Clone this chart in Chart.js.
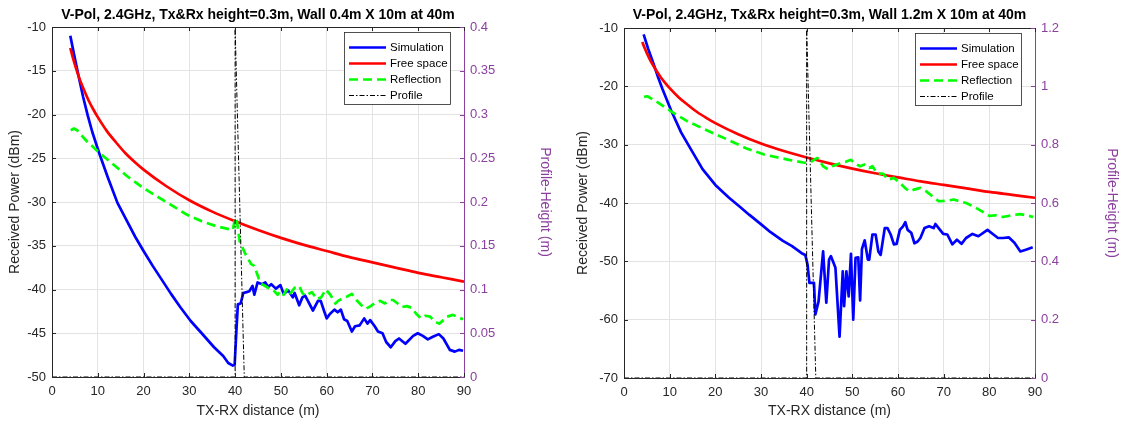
<!DOCTYPE html>
<html>
<head>
<meta charset="utf-8">
<script src="https://cdn.jsdelivr.net/npm/chart.js@4/dist/chart.umd.min.js"></script>
<style>
  html, body { margin: 0; padding: 0; background: #fff; }
  #wrap { position: relative; width: 1121px; height: 421px; overflow: hidden; }
  canvas { position: absolute; top: 0; }
  #wall04 { left: 0; }
  #wall12 { left: 560px; }
</style>
</head>
<body>
<div id="wrap">
  <canvas id="wall04" width="560" height="421"></canvas>
  <canvas id="wall12" width="561" height="421"></canvas>
</div>
<script>
// free-space reference, same for both runs (dBm vs m)
const freeDist = [4, 4.5, 5, 6, 7, 8, 9, 10, 12, 14, 16, 18, 20, 25, 30, 35, 40, 45, 50, 55, 60, 65, 70, 75, 80, 85, 90]
const freePower = [-12.4, -13.4, -14.3, -15.9, -17.2, -18.4, -19.4, -20.3, -21.9, -23.2, -24.4, -25.4, -26.3, -28.2, -29.8, -31.1, -32.2, -33.2, -34.1, -34.9, -35.6, -36.3, -36.9, -37.5, -38.1, -38.6, -39.1]

// wall 0.4 m
const simDist04 = [4, 4.8, 5.8, 6.8, 7.8, 8.8, 10.3, 12.2, 14.3, 16.3, 18.2, 20, 22, 24, 26, 28, 30.3, 32.7, 35.4, 37.4, 38.5, 39.5, 39.9, 40.3, 40.6, 41.2, 41.8, 42.5, 43.1, 43.8, 44.2, 44.9, 45.9, 46.6, 47.2, 47.9, 48.9, 49.9, 50.6, 51.6, 52.6, 53, 54, 54.7, 55.3, 56.4, 57, 58.1, 58.7, 59.4, 60, 60.7, 61.7, 62.4, 63.1, 63.8, 64.5, 65.5, 66.2, 67.2, 68.2, 68.9, 69.5, 70.5, 71.2, 72.2, 73, 74, 75, 75.8, 77.2, 78.9, 79.9, 81, 82.1, 83.2, 84.5, 85.5, 86.9, 88, 88.9, 89.8]
const simPower04 = [-11, -13.1, -15.6, -18, -20.1, -22, -24.4, -27.2, -30.1, -32.1, -34, -35.6, -37.3, -38.9, -40.5, -42, -43.6, -45, -46.6, -47.6, -48.4, -48.7, -48.6, -44.5, -41.7, -41.6, -40.4, -40.3, -40.2, -39.6, -40.6, -39.2, -39.4, -39.2, -39.7, -39.4, -39.9, -39.5, -40.5, -40.1, -40.9, -40.4, -41.8, -40.9, -40.7, -41.8, -42.4, -41.3, -41.3, -42.4, -43.3, -42.8, -42.3, -42.6, -42.3, -43.4, -43.6, -44.8, -44.2, -44.1, -43.3, -43.9, -43.5, -44.2, -44.8, -45, -46, -46.6, -45.9, -45.6, -46.2, -45.3, -45, -45.3, -45.7, -45.4, -45.1, -45.6, -46.9, -47.1, -46.9, -47]
const reflDist04 = [4.1, 4.8, 5.5, 7.5, 10.2, 13.6, 16.3, 19.7, 22.4, 25.9, 29.3, 32.7, 36.1, 39.5, 40, 40.4, 41, 42.2, 43.5, 44.2, 45.2, 45.9, 47.2, 48.2, 49.3, 49.9, 50.6, 51.3, 51.9, 53, 54, 54.7, 55.3, 56.8, 57.8, 58.8, 59.8, 60.8, 61.9, 62.5, 63.5, 64.5, 65.5, 66.5, 67.6, 68.6, 69.6, 70.7, 71.7, 72.7, 73.8, 74.5, 75.5, 76.5, 77.5, 78.6, 79.6, 80.6, 81.6, 82.6, 83.7, 84.6, 85.5, 86.3, 87.6, 88.8, 89.8]
const reflPower04 = [-21.8, -21.6, -21.8, -23, -24.3, -25.8, -27, -28.3, -29.2, -30.3, -31.4, -32.2, -32.8, -33.2, -31.8, -32.2, -34.5, -35.9, -37.1, -37.3, -38.8, -39.4, -39.8, -40, -40.6, -40.2, -40.6, -40, -40.6, -39.8, -39.6, -40.4, -40.7, -40.3, -41.1, -40.9, -40, -40.6, -41.6, -41.3, -41, -40.8, -40.5, -41.2, -41.8, -42.2, -41.9, -41.5, -41.3, -41.6, -41.2, -41.2, -41.6, -42, -41.9, -42.1, -42.8, -43.3, -43, -43.1, -43.7, -43.9, -43.5, -43.1, -42.9, -43.2, -43.4]
const profDist04 = [0, 40, 40, 42, 90]
const profHeight04 = [0, 0, 0.4, 0, 0]

// wall 1.2 m
const simDist12 = [4.3, 5.3, 6.4, 7.4, 8.4, 10.3, 12.5, 14.5, 17.2, 20, 23, 25.3, 27.4, 30.1, 32.1, 34.8, 36.8, 38.9, 39.7, 40.2, 40.6, 41.6, 41.9, 42.6, 43.6, 44.3, 44.9, 45.3, 46.3, 47.2, 47.9, 48.2, 48.7, 49.2, 49.7, 50.2, 50.7, 51.3, 51.7, 52.1, 52.7, 53.4, 53.7, 54.4, 55.1, 55.7, 56.2, 57.1, 57.7, 58.4, 59.1, 59.7, 60.4, 61.1, 61.6, 62.1, 62.9, 63.6, 64.3, 64.9, 65.8, 66.8, 67.8, 68.2, 68.9, 69.9, 70.8, 71.9, 72.9, 73.9, 74.9, 76.3, 77.6, 79.6, 80.9, 81.9, 83, 84.3, 85.5, 86.8, 88, 89.5]
const simPower12 = [-11.1, -13.6, -16, -18.3, -20.4, -24.1, -27.9, -30.6, -34.2, -36.9, -39.1, -40.6, -42, -43.7, -45, -46.5, -47.4, -48.6, -48.9, -50.6, -53.7, -53.7, -59.1, -56.9, -48.3, -57.1, -49.7, -49.1, -51.1, -62.9, -51.7, -57.7, -51.7, -56, -48.7, -60, -49.4, -49.3, -56.7, -47.9, -46.4, -49.7, -49.7, -45.4, -45.4, -48.3, -48.9, -44.3, -44.3, -45.4, -47.1, -47, -44.6, -44, -43.3, -44.6, -45.1, -46.9, -46.6, -46, -44.3, -44, -44.3, -43.6, -44.3, -45.3, -45.4, -47.1, -46.3, -47, -46, -45.3, -45.7, -44.6, -45.4, -46, -46, -45.9, -46.8, -48.3, -48, -47.6]
const reflDist12 = [4.4, 5.1, 7.1, 10.3, 13.9, 18.6, 22.6, 26.7, 30.7, 36.1, 39.5, 40.9, 41.6, 42.4, 43.6, 44.6, 45.6, 46.6, 47.6, 48.7, 49.7, 50.7, 51.7, 52.7, 53.7, 54.4, 55.4, 56.8, 57.8, 59.1, 60.5, 61.5, 62.5, 63.5, 64.9, 66.2, 67.6, 68.9, 70.8, 72.2, 73.5, 74.9, 76.6, 78.3, 80, 81.4, 83, 84.9, 86.7, 88.2, 89.6]
const reflPower12 = [-21.8, -21.7, -22.6, -24.3, -26, -27.7, -29.1, -30.6, -31.7, -32.6, -33.1, -33, -32.6, -32.3, -33.7, -34.2, -33.7, -33.4, -33.1, -32.9, -32.6, -33.3, -33.7, -33.4, -34, -33.7, -34.9, -35, -36, -35.7, -36.6, -37.4, -38, -37.7, -37.4, -38, -38.9, -39.7, -39.6, -39.4, -39.7, -40, -40.6, -41.4, -42.2, -42.1, -42.4, -42.1, -41.9, -42.1, -42.4]
const profDist12 = [0, 40, 40, 42, 90]
const profHeight12 = [0, 0, 1.2, 0, 0]

const FONT = "'Liberation Sans', Arial, Helvetica, sans-serif"
const INK = '#262626'
const PURPLE = '#8b3f9e'
const GRID = '#e3e3e3'

const pts = (xs, ys) => xs.map((x, i) => ({ x, y: ys[i] }))

// inward tick marks and the top edge of the box, like a matlab axes
const frame = {
  id: 'frame',
  afterDatasetsDraw(chart) {
    const { ctx, chartArea: a, scales } = chart
    const len = 4
    ctx.save()
    ctx.lineWidth = 1
    ctx.strokeStyle = INK
    ctx.beginPath()
    ctx.moveTo(a.left, Math.round(a.top) + 0.5)
    ctx.lineTo(a.right, Math.round(a.top) + 0.5)
    scales.x.ticks.forEach(t => {
      const px = Math.round(scales.x.getPixelForValue(t.value)) + 0.5
      ctx.moveTo(px, a.bottom)
      ctx.lineTo(px, a.bottom - len)
      ctx.moveTo(px, a.top)
      ctx.lineTo(px, a.top + len)
    })
    scales.y.ticks.forEach(t => {
      const py = Math.round(scales.y.getPixelForValue(t.value)) + 0.5
      ctx.moveTo(a.left, py)
      ctx.lineTo(a.left + len, py)
    })
    ctx.stroke()
    ctx.strokeStyle = PURPLE
    ctx.beginPath()
    scales.h.ticks.forEach(t => {
      const py = Math.round(scales.h.getPixelForValue(t.value)) + 0.5
      ctx.moveTo(a.right, py)
      ctx.lineTo(a.right - len, py)
    })
    ctx.stroke()
    ctx.restore()
  }
}

// boxed legend in the upper right corner of the plot area
const boxLegend = {
  id: 'boxLegend',
  afterDraw(chart, args, opts) {
    const { ctx, chartArea: a } = chart
    const w = 106, h = 72
    const left = a.right - opts.right - w
    const top = a.top + opts.top
    ctx.save()
    ctx.fillStyle = '#fff'
    ctx.fillRect(left, top, w, h)
    ctx.strokeStyle = INK
    ctx.lineWidth = 0.8
    ctx.strokeRect(left + 0.5, top + 0.5, w, h)
    ctx.font = `11.5px ${FONT}`
    ctx.textBaseline = 'middle'
    ctx.fillStyle = '#000'
    chart.data.datasets.forEach((ds, i) => {
      const y = Math.round(top + 15 + i * 16) + 0.5
      ctx.strokeStyle = ds.borderColor
      ctx.lineWidth = ds.borderWidth
      ctx.setLineDash(ds.borderDash || [])
      ctx.beginPath()
      ctx.moveTo(left + 5, y)
      ctx.lineTo(left + 42, y)
      ctx.stroke()
      ctx.setLineDash([])
      ctx.fillText(ds.label, left + 46, y)
    })
    ctx.restore()
  }
}

const makePanel = (id, cfg) => new Chart(document.getElementById(id), {
  type: 'line',
  data: {
    datasets: [
      { label: 'Simulation', data: pts(cfg.simDist, cfg.simPower), borderColor: '#0000ff', borderWidth: 2.7, yAxisID: 'y', order: 3 },
      { label: 'Free space', data: pts(freeDist, freePower), borderColor: '#ff0000', borderWidth: 2.7, cubicInterpolationMode: 'monotone', yAxisID: 'y', order: 2 },
      { label: 'Reflection', data: pts(cfg.reflDist, cfg.reflPower), borderColor: '#00ff00', borderWidth: 2.7, borderDash: [9, 5], yAxisID: 'y', order: 1 },
      { label: 'Profile', data: pts(cfg.profDist, cfg.profHeight), borderColor: '#000', borderWidth: 1, borderDash: [5, 2, 1.5, 2], yAxisID: 'h', order: 0 }
    ]
  },
  options: {
    responsive: false,
    animation: false,
    elements: {
      point: { radius: 0 },
      line: { tension: 0, borderJoinStyle: 'round' }
    },
    layout: { padding: 0 },
    plugins: {
      legend: { display: false },
      tooltip: { enabled: false },
      title: {
        display: true,
        text: cfg.title,
        fullSize: false,
        color: '#000',
        font: { family: FONT, size: 14, weight: 'bold' },
        padding: { top: 6.6, bottom: cfg.top - 16.8 - 6.6 }
      },
      boxLegend: { right: 14, top: 5 }
    },
    scales: {
      x: {
        type: 'linear',
        min: 0,
        max: 90,
        ticks: { stepSize: 10, autoSkip: false, maxRotation: 0, padding: 7, color: INK, font: { family: FONT, size: 13 } },
        grid: { color: GRID, drawTicks: false },
        border: { color: INK },
        title: { display: true, text: 'TX-RX distance (m)', color: INK, font: { family: FONT, size: 14 }, padding: { top: 0, bottom: 1 } },
        afterFit: s => { s.height = 421 - cfg.bottom }
      },
      y: {
        position: 'left',
        min: cfg.yMin,
        max: -10,
        ticks: { stepSize: cfg.yStep, autoSkip: false, padding: 6, color: INK, font: { family: FONT, size: 13 } },
        grid: { color: GRID, drawTicks: false },
        border: { color: INK },
        title: { display: true, text: 'Received Power (dBm)', color: INK, font: { family: FONT, size: 14 }, padding: { top: cfg.yTitlePad, bottom: 0 } },
        afterFit: s => { s.width = cfg.left }
      },
      h: {
        position: 'right',
        min: 0,
        max: cfg.hMax,
        ticks: { stepSize: cfg.hStep, autoSkip: false, padding: 6, color: PURPLE, font: { family: FONT, size: 13 }, format: { minimumFractionDigits: 0 } },
        grid: { display: false, drawTicks: false },
        border: { color: PURPLE },
        title: { display: true, text: 'Profile-Height (m)', color: PURPLE, font: { family: FONT, size: 14 }, padding: { top: cfg.hTitlePad, bottom: 0 } },
        afterFit: s => { s.width = cfg.right }
      }
    }
  },
  plugins: [frame, boxLegend]
})

makePanel('wall04', {
  title: 'V-Pol, 2.4GHz, Tx&Rx height=0.3m, Wall 0.4m X 10m at 40m',
  simDist: simDist04, simPower: simPower04,
  reflDist: reflDist04, reflPower: reflPower04,
  profDist: profDist04, profHeight: profHeight04,
  yMin: -50, yStep: 5, hMax: 0.4, hStep: 0.05,
  top: 27, bottom: 377, left: 52, right: 96,
  yTitlePad: 6.6, hTitlePad: 6.6
})

makePanel('wall12', {
  title: 'V-Pol, 2.4GHz, Tx&Rx height=0.3m, Wall 1.2m X 10m at 40m',
  simDist: simDist12, simPower: simPower12,
  reflDist: reflDist12, reflPower: reflPower12,
  profDist: profDist12, profHeight: profHeight12,
  yMin: -70, yStep: 10, hMax: 1.2, hStep: 0.2,
  top: 28, bottom: 378, left: 64, right: 86,
  yTitlePad: 14.6, hTitlePad: 0.6
})
</script>
</body>
</html>
